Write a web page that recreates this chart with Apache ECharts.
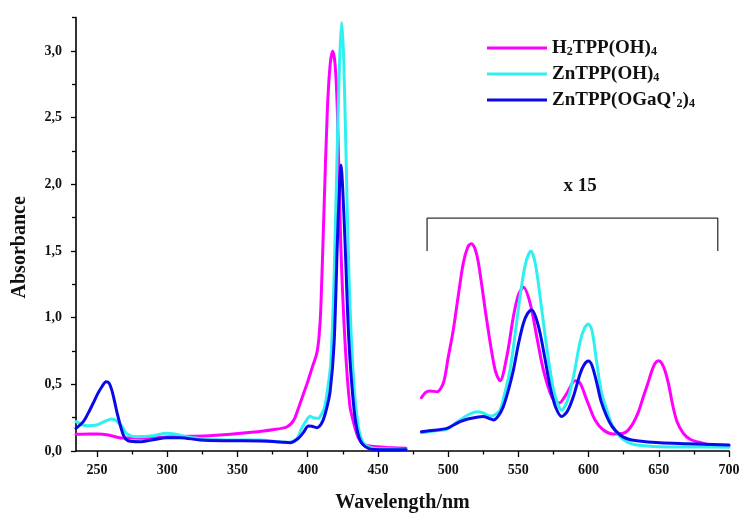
<!DOCTYPE html>
<html>
<head>
<meta charset="utf-8">
<script src="https://cdn.jsdelivr.net/npm/echarts@6/dist/echarts.min.js"></script>
<style>
html,body{margin:0;padding:0;background:#fff;}
#chart{width:740px;height:515px;}
</style>
</head>
<body>
<div id="chart"></div>
<script>
// ---------- DATA ----------
const seriesNames = ['H2TPP(OH)4', 'ZnTPP(OH)4', "ZnTPP(OGaQ'2)4"];

// H2TPP(OH)4 – Soret region
const h2LeftX = [235, 245, 250, 258, 266, 275, 285, 300, 315, 330, 345, 360, 375, 385, 390, 393, 397, 400, 403, 406.4, 408, 409.3, 411.6, 414, 416, 417.8, 419.5, 421.1, 423.5, 426.6, 430, 432.5, 436, 440, 445, 460, 470];
const h2LeftY = [0.125, 0.127, 0.127, 0.12, 0.10, 0.097, 0.095, 0.105, 0.11, 0.115, 0.125, 0.14, 0.16, 0.18, 0.23, 0.31, 0.43, 0.52, 0.62, 0.73, 0.85, 1.06, 1.81, 2.56, 2.9, 3.0, 2.9, 2.56, 1.56, 0.81, 0.34, 0.22, 0.10, 0.05, 0.035, 0.025, 0.02];
// H2TPP(OH)4 – Q bands (x 15)
const h2RightX = [481, 484, 487, 492, 496.6, 500, 503.7, 507, 510.8, 514, 516.4, 519, 521.6, 527.5, 533.4, 537, 541.8, 546.5, 550, 553.6, 558.4, 563.1, 567.8, 573.8, 579, 584.5, 590.4, 594, 598.7, 604.6, 610.6, 617.7, 624.8, 630, 635, 639, 642, 645, 647.5, 649.8, 652, 654.5, 657, 660, 663, 667.5, 672, 677, 686.6, 700];
const h2RightY = [0.40, 0.44, 0.45, 0.445, 0.51, 0.70, 0.91, 1.15, 1.41, 1.53, 1.555, 1.52, 1.41, 0.98, 0.61, 0.527, 0.71, 1.01, 1.17, 1.228, 1.108, 0.857, 0.608, 0.407, 0.36, 0.433, 0.527, 0.508, 0.383, 0.233, 0.158, 0.128, 0.133, 0.18, 0.28, 0.407, 0.50, 0.60, 0.66, 0.677, 0.66, 0.60, 0.50, 0.34, 0.22, 0.133, 0.09, 0.07, 0.045, 0.04];

// ZnTPP(OH)4
const znLeftX = [235, 242.6, 249.7, 256, 260.4, 264, 268, 271.1, 278.2, 290, 299.6, 306, 313.8, 328, 345, 366, 385, 392, 395.7, 398.5, 401.7, 404, 407.6, 410, 412, 414, 416.4, 418.8, 421.1, 422.8, 424.2, 425.6, 427.1, 429.4, 432.5, 436, 439, 442, 447, 460, 470];
const znLeftY = [0.22, 0.19, 0.195, 0.225, 0.24, 0.225, 0.18, 0.13, 0.107, 0.115, 0.133, 0.125, 0.107, 0.088, 0.083, 0.082, 0.065, 0.09, 0.17, 0.22, 0.26, 0.25, 0.245, 0.28, 0.33, 0.45, 0.66, 1.31, 2.31, 2.95, 3.213, 2.95, 2.31, 1.31, 0.56, 0.18, 0.07, 0.04, 0.02, 0.015, 0.01];
const znRightX = [481, 490, 499, 504, 508.5, 514, 520.4, 525, 529.9, 533, 537, 540, 544.1, 548, 551.2, 555, 558.9, 562, 565.5, 569, 572.6, 576, 580.9, 585, 589.2, 594, 597, 599.9, 602.5, 605.9, 609, 613, 617, 622.5, 628, 634.3, 651, 670, 700];
const znRightY = [0.137, 0.15, 0.163, 0.2, 0.233, 0.27, 0.295, 0.285, 0.262, 0.27, 0.307, 0.42, 0.607, 0.9, 1.157, 1.4, 1.50, 1.41, 1.157, 0.87, 0.607, 0.42, 0.307, 0.38, 0.557, 0.82, 0.92, 0.953, 0.9, 0.658, 0.45, 0.307, 0.19, 0.107, 0.065, 0.045, 0.032, 0.03, 0.028];

// ZnTPP(OGaQ'2)4
const gaLeftX = [235, 240.2, 244, 247.3, 250.5, 253.3, 256.4, 258.5, 260.4, 262.5, 264.4, 268.7, 272.2, 280.6, 290, 299.6, 309, 323.3, 342.3, 366, 380, 387.4, 393.3, 397, 400.5, 403, 406.4, 410, 413, 416, 418.8, 421.1, 422.5, 423.7, 425, 426.6, 429.4, 433, 436, 439.6, 446.8, 460, 470];
const gaLeftY = [0.17, 0.22, 0.29, 0.36, 0.43, 0.48, 0.52, 0.51, 0.46, 0.37, 0.28, 0.12, 0.077, 0.07, 0.085, 0.10, 0.10, 0.083, 0.077, 0.075, 0.068, 0.062, 0.095, 0.14, 0.188, 0.185, 0.175, 0.21, 0.30, 0.45, 0.81, 1.56, 1.95, 2.145, 1.95, 1.56, 0.81, 0.31, 0.12, 0.045, 0.012, 0.01, 0.01];
const gaRightX = [481, 490, 499, 504, 508.5, 514, 520.4, 525, 529, 532.2, 535.5, 539.3, 543, 546.5, 550, 553.6, 556.5, 559.6, 562.5, 565.5, 569, 572.6, 576.5, 580.9, 585, 589.2, 594, 597, 599.9, 602.5, 605.9, 609, 613, 617, 622.5, 628, 634.3, 651, 670, 700];
const gaRightY = [0.145, 0.155, 0.17, 0.195, 0.22, 0.24, 0.253, 0.258, 0.245, 0.233, 0.26, 0.333, 0.46, 0.608, 0.8, 0.958, 1.03, 1.058, 1.0, 0.883, 0.69, 0.482, 0.33, 0.258, 0.3, 0.408, 0.58, 0.65, 0.675, 0.64, 0.508, 0.37, 0.258, 0.18, 0.12, 0.09, 0.077, 0.062, 0.055, 0.045];

// axis ticks
const xMajorTicks = [250, 300, 350, 400, 450, 500, 550, 600, 650, 700];
const xMinorTicks = [275, 325, 375, 425, 475, 525, 575, 625, 675];
const yMajorTicks = [0, 0.5, 1.0, 1.5, 2.0, 2.5, 3.0];
const yMinorTicks = [0.25, 0.75, 1.25, 1.75, 2.25, 2.75, 3.25];

// "x 15" annotation bracket and label
const bracketX = [485, 485, 692, 692];
const bracketY = [1.50, 1.746, 1.746, 1.50];
const scaleLabelPos = [594, 1.99];
const scaleLabelText = 'x 15';

// ---------- CHART ----------
const FONT = '"Liberation Serif", "DejaVu Serif", serif';
const colors = ['#ff00ff', '#2ff0f0', '#0a0ae8'];

function zipSeg(xs, ys) { return xs.map((x, i) => [x, ys[i]]); }
function joinSegs(a, b) { return a.concat([[475, null]], b); }

const dataSets = [
  joinSegs(zipSeg(h2LeftX, h2LeftY), zipSeg(h2RightX, h2RightY)),
  joinSegs(zipSeg(znLeftX, znLeftY), zipSeg(znRightX, znRightY)),
  joinSegs(zipSeg(gaLeftX, gaLeftY), zipSeg(gaRightX, gaRightY))
];

const legendRich = {
  s: { fontFamily: FONT, fontWeight: 'bold', fontSize: 12, lineHeight: 6, verticalAlign: 'bottom', color: '#111' }
};
const legendLabels = {
  'H2TPP(OH)4': 'H{s|2}TPP(OH){s|4}',
  'ZnTPP(OH)4': 'ZnTPP(OH){s|4}',
  "ZnTPP(OGaQ'2)4": "ZnTPP(OGaQ'{s|2}){s|4}"
};

const chart = echarts.init(document.getElementById('chart'), null, { renderer: 'canvas' });

const lineSeries = seriesNames.map((name, i) => ({
  name: name,
  type: 'line',
  data: dataSets[i],
  xAxisIndex: 0,
  yAxisIndex: 0,
  showSymbol: false,
  symbol: 'none',
  smooth: 0.3,
  connectNulls: false,
  color: colors[i],
  lineStyle: { color: colors[i], width: 3, cap: 'round', join: 'round' },
  z: 2 + i
}));

const option = {
  animation: false,
  backgroundColor: '#ffffff',
  grid: { left: 76, right: 11, top: 17.67, bottom: 64, containLabel: false, outerBoundsMode: 'none' },
  legend: {
    data: seriesNames,
    orient: 'vertical',
    left: 482,
    top: 33.5,
    icon: 'rect',
    itemWidth: 60,
    itemHeight: 3,
    itemGap: 7,
    formatter: name => legendLabels[name],
    textStyle: { fontFamily: FONT, fontWeight: 'bold', fontSize: 19, lineHeight: 19, color: '#111', rich: legendRich }
  },
  xAxis: [
    {
      type: 'value', min: 235, max: 700,
      name: 'Wavelength/nm', nameLocation: 'middle', nameGap: 42,
      nameTextStyle: { fontFamily: FONT, fontWeight: 'bold', fontSize: 20, color: '#111' },
      axisLine: { show: true, lineStyle: { color: '#000', width: 1.6 } },
      axisTick: { show: true, inside: false, length: 6, customValues: xMajorTicks, lineStyle: { color: '#000', width: 1.3 } },
      axisLabel: { show: true, customValues: xMajorTicks, margin: 12, fontFamily: FONT, fontWeight: 'bold', fontSize: 14, color: '#111' },
      splitLine: { show: false }
    },
    {
      type: 'value', min: 235, max: 700, position: 'bottom', gridIndex: 0,
      axisLine: { show: false },
      axisTick: { show: true, inside: false, length: 3.5, customValues: xMinorTicks, lineStyle: { color: '#000', width: 1.3 } },
      axisLabel: { show: false },
      splitLine: { show: false }
    }
  ],
  yAxis: [
    {
      type: 'value', min: 0, max: 3.25,
      name: 'Absorbance', nameLocation: 'middle', nameGap: 46, nameRotate: 90,
      nameTextStyle: { fontFamily: FONT, fontWeight: 'bold', fontSize: 20, color: '#111', padding: [0, 26, 0, 0] },
      axisLine: { show: true, lineStyle: { color: '#000', width: 1.6 } },
      axisTick: { show: true, inside: false, length: 5, customValues: yMajorTicks, lineStyle: { color: '#000', width: 1.3 } },
      axisLabel: { show: true, customValues: yMajorTicks, margin: 14, fontFamily: FONT, fontWeight: 'bold', fontSize: 14, color: '#111',
        formatter: v => v.toFixed(1).replace('.', ',') },
      splitLine: { show: false }
    },
    {
      type: 'value', min: 0, max: 3.25, position: 'left', gridIndex: 0,
      axisLine: { show: false },
      axisTick: { show: true, inside: false, length: 4, customValues: yMinorTicks, lineStyle: { color: '#000', width: 1.3 } },
      axisLabel: { show: false },
      splitLine: { show: false }
    }
  ],
  series: lineSeries.concat([
    {
      name: 'bracket',
      type: 'line',
      data: zipSeg(bracketX, bracketY),
      showSymbol: false,
      symbol: 'none',
      silent: true,
      lineStyle: { color: '#333', width: 1.3 },
      z: 1
    },
    {
      name: 'scale',
      type: 'scatter',
      data: [scaleLabelPos],
      symbolSize: 0,
      silent: true,
      itemStyle: { opacity: 1 },
      label: { show: true, position: 'inside', formatter: scaleLabelText, fontFamily: FONT, fontWeight: 'bold', fontSize: 19, color: '#111', opacity: 1 }
    }
  ])
};

chart.setOption(option);
</script>
</body>
</html>
